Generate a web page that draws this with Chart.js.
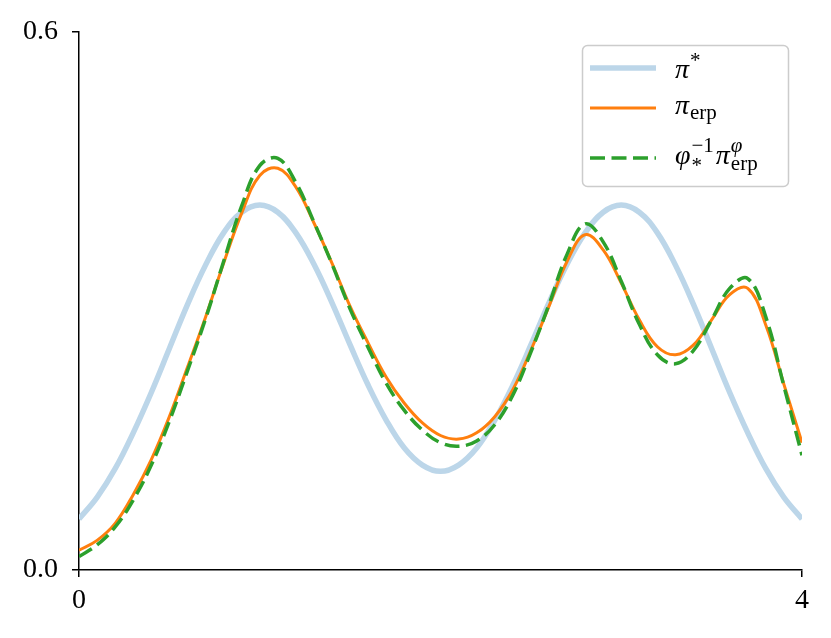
<!DOCTYPE html>
<html><head><meta charset="utf-8">
<script src="https://cdn.jsdelivr.net/npm/chart.js@4.4.0/dist/chart.umd.min.js"></script>
<style>html,body{margin:0;padding:0;background:#fff;} #wrap{width:831px;height:638px;}</style>
</head><body><div id="wrap"><canvas id="c" width="831" height="638"></canvas></div>
<script>
// ---- data ----
const xValues = [0.0,0.1,0.2,0.3,0.4,0.5,0.6,0.7,0.8,0.9,1.0,1.1,1.2,1.3,1.4,1.5,1.6,1.7,1.8,1.9,2.0,
                 2.1,2.2,2.3,2.4,2.5,2.6,2.7,2.8,2.9,3.0,3.1,3.2,3.3,3.4,3.5,3.6,3.7,3.8,3.9,4.0];
const piStar = [0.057,0.081,0.113,0.153,0.198,0.247,0.296,0.340,0.376,0.399,0.407,0.399,0.376,0.341,0.298,0.251,0.206,0.167,0.136,0.117,0.110,
                0.117,0.136,0.167,0.206,0.251,0.298,0.341,0.376,0.399,0.407,0.399,0.376,0.340,0.296,0.247,0.198,0.153,0.113,0.081,0.057];
const piErp = [0.022,0.033,0.052,0.084,0.123,0.171,0.226,0.282,0.342,0.398,0.440,0.448,0.427,0.387,0.342,0.294,0.253,0.215,0.186,0.164,0.150,
               0.146,0.153,0.171,0.201,0.245,0.294,0.344,0.374,0.357,0.320,0.279,0.249,0.240,0.251,0.279,0.307,0.314,0.273,0.207,0.142];
const piPhi = [0.015,0.028,0.048,0.078,0.117,0.166,0.222,0.280,0.344,0.406,0.451,0.459,0.432,0.388,0.341,0.291,0.248,0.208,0.178,0.156,0.142,
               0.138,0.144,0.162,0.195,0.243,0.296,0.352,0.386,0.366,0.322,0.274,0.240,0.230,0.245,0.279,0.314,0.325,0.282,0.205,0.128];
const xTicks = [0, 4];
const yTicks = [0.0, 0.6];
const seriesLabels = ['π*', 'π_erp', 'φ_*^{−1} π_erp^φ'];

// ---- rendering ----
const FONT = 'Liberation Serif';
const toPoints = ys => ys.map((y, i) => ({x: xValues[i], y: y}));

function fontOf(p){ return (p.it ? 'italic ' : '') + p.size + 'px "' + FONT + '"'; }
function drawRich(ctx, x, y, parts){
  for (const p of parts){
    if (p.stack){
      let w = 0;
      for (const q of p.stack){
        ctx.font = fontOf(q);
        ctx.fillText(q.t, x + (q.dx||0), y + (q.dy||0));
        w = Math.max(w, ctx.measureText(q.t).width + (q.dx||0));
      }
      x += w + (p.gap||0);
    } else {
      ctx.font = fontOf(p);
      ctx.fillText(p.t, x + (p.dx||0), y + (p.dy||0));
      x += ctx.measureText(p.t).width + (p.dx||0) + (p.gap||0);
    }
  }
}
const BIG = 28, SM = 21;
const richLabels = [
  [{t:'π', it:true, size:BIG, gap:1}, {t:'*', size:SM, dy:-11}],
  [{t:'π', it:true, size:BIG, gap:1}, {t:'erp', size:SM, dy:5}],
  [{t:'φ', it:true, size:BIG, gap:1},
   {stack:[{t:'−1', size:SM, dy:-12}, {t:'*', size:SM, dy:8}], gap:2},
   {t:'π', it:true, size:BIG, gap:1},
   {stack:[{t:'φ', it:true, size:SM, dy:-12}, {t:'erp', size:SM, dy:6}]}]
];

const legendPlugin = {
  id: 'mathLegend',
  afterDraw(chart){
    const ctx = chart.ctx;
    const ds = chart.data.datasets;
    ctx.save();
    const bx = 582.5, by = 45.5, bw = 206, bh = 141, r = 5;
    ctx.beginPath();
    ctx.moveTo(bx + r, by);
    ctx.arcTo(bx + bw, by, bx + bw, by + bh, r);
    ctx.arcTo(bx + bw, by + bh, bx, by + bh, r);
    ctx.arcTo(bx, by + bh, bx, by, r);
    ctx.arcTo(bx, by, bx + bw, by, r);
    ctx.closePath();
    ctx.fillStyle = 'rgba(255,255,255,0.8)';
    ctx.fill();
    ctx.strokeStyle = '#cccccc';
    ctx.lineWidth = 1.5;
    ctx.stroke();
    const rows = [68, 108, 158];
    const bases = [78, 114, 164];
    ds.forEach((d, i) => {
      ctx.beginPath();
      ctx.strokeStyle = d.borderColor;
      ctx.lineWidth = d.borderWidth;
      ctx.setLineDash(d.borderDash || []);
      ctx.moveTo(590, rows[i]);
      ctx.lineTo(656, rows[i]);
      ctx.stroke();
      ctx.setLineDash([]);
      ctx.fillStyle = '#000';
      ctx.textBaseline = 'alphabetic';
      ctx.textAlign = 'left';
      drawRich(ctx, 675, bases[i], richLabels[i]);
    });
    ctx.restore();
  }
};

const tickFont = {family: FONT, size: 28};
new Chart(document.getElementById('c'), {
  type: 'line',
  data: {
    datasets: [
      {label: seriesLabels[0], data: toPoints(piStar), borderColor: 'rgb(188,214,233)', borderWidth: 5.5, order: 3, tension: 0.4, pointRadius: 0, fill: false},
      {label: seriesLabels[1], data: toPoints(piErp), borderColor: '#ff7f0e', borderWidth: 3, order: 2, tension: 0.4, pointRadius: 0, fill: false},
      {label: seriesLabels[2], data: toPoints(piPhi), borderColor: '#2ca02c', borderWidth: 3.5, borderDash: [15, 6.5], order: 1, tension: 0.4, pointRadius: 0, fill: false}
    ]
  },
  options: {
    responsive: false, animation: false,
    layout: {padding: {top: 32, right: 29, left: 0, bottom: 0}},
    plugins: {legend: {display: false}, tooltip: {enabled: false}},
    scales: {
      x: {
        type: 'linear', min: 0, max: 4,
        afterBuildTicks: s => { s.ticks = xTicks.map(v => ({value: v})); },
        afterFit: s => { s.height = 68; },
        grid: {drawOnChartArea: false, drawTicks: true, tickLength: 7, color: '#000', lineWidth: 1.5},
        border: {display: true, color: '#000', width: 1.5},
        ticks: {font: tickFont, color: '#000', padding: 7, maxRotation: 0, autoSkip: false, callback: v => String(v)}
      },
      y: {
        type: 'linear', min: 0, max: 0.6,
        afterBuildTicks: s => { s.ticks = yTicks.map(v => ({value: v})); },
        afterFit: s => { s.width = 79; },
        grid: {drawOnChartArea: false, drawTicks: true, tickLength: 7, color: '#000', lineWidth: 1.5},
        border: {display: true, color: '#000', width: 1.5},
        ticks: {font: tickFont, color: '#000', padding: 14, autoSkip: false, callback: v => Number(v).toFixed(1)}
      }
    }
  },
  plugins: [legendPlugin]
});
</script>
</body></html>
